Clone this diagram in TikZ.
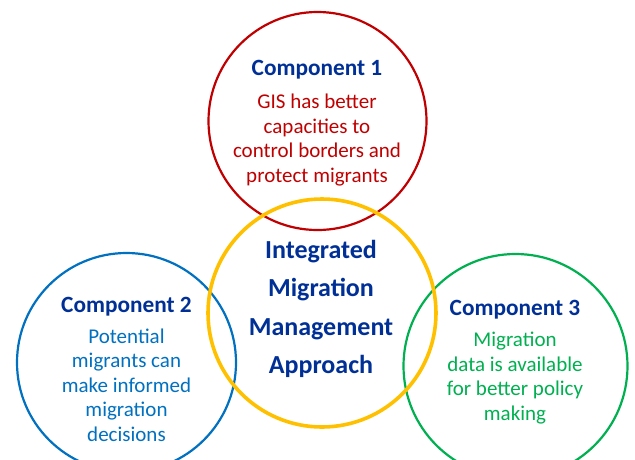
\documentclass[tikz,border=0pt]{standalone}
\usepackage{fontspec}
\setmainfont{Carlito}
\definecolor{titleblue}{RGB}{0,48,150}
\definecolor{cred}{RGB}{192,0,0}
\definecolor{cblue}{RGB}{0,112,192}
\definecolor{cgreen}{RGB}{0,176,80}
\definecolor{cyellow}{RGB}{255,192,0}
\begin{document}
\begin{tikzpicture}[x=1pt,y=-1pt,
  ring/.style={circle,draw,line width=2.2pt,inner sep=0pt},
  ttl/.style={text=titleblue,font=\fontsize{23.3}{27}\selectfont\bfseries,inner sep=0pt},
  body/.style={align=center,inner sep=0pt,font=\fontsize{21}{24.5}\selectfont},
  mainlbl/.style={align=center,inner sep=0pt,text=titleblue,font=\fontsize{26}{38.5}\selectfont\bfseries}]
\useasboundingbox (0,0) rectangle (635,459);
\node[ring,draw=cred,minimum size=218pt] (c1) at (317.5,121) {};
\node[ring,draw=cblue,minimum size=219pt] (c2) at (126.5,362.5) {};
\node[ring,draw=cgreen,minimum size=224pt] (c3) at (515.5,366) {};
\node[ring,draw=cyellow,line width=3.6pt,minimum size=228pt] (c0) at (322,313) {};
\node[ttl] (t1) at (317,70) {Component 1};
\node[body,text=cred] (b1) at (317,140) {GIS has better\\capacities to\\control borders and\\protect migrants};
\node[ttl] (t2) at (126.5,307) {Component 2};
\node[body,text=cblue] (b2) at (126.5,385) {Potential\\migrants can\\make informed\\migration\\decisions};
\node[ttl] (t3) at (515,310) {Component 3};
\node[body,text=cgreen] (b3) at (515,378) {Migration\\data is available\\for better policy\\making};
\node[mainlbl] (m) at (321,309) {Integrated\\Migration\\Management\\Approach};
\end{tikzpicture}
\end{document}
